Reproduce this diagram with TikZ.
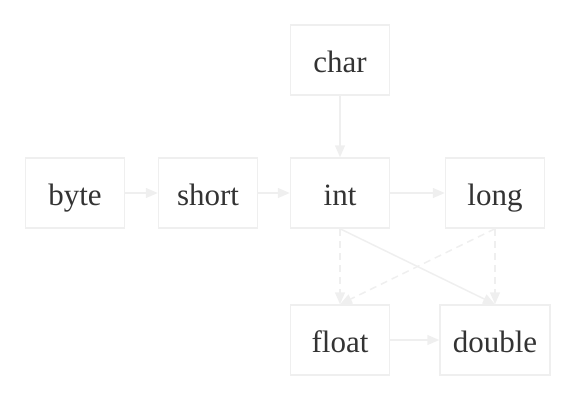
\documentclass[tikz,border=0pt]{standalone}
\usepackage{fontspec}
\setmainfont{Liberation Serif}
\usetikzlibrary{arrows.meta}
\definecolor{boxc}{HTML}{EFEFEF}
\definecolor{txtc}{HTML}{333333}
\begin{document}
\begin{tikzpicture}[x=1pt,y=-1pt,
  typebox/.style={draw=boxc, line width=1.5pt, minimum width=99pt, minimum height=70pt, inner sep=0pt,
    text height=24pt, text depth=0pt,
    text=txtc, font=\fontsize{31}{34}\selectfont},
  conn/.style={draw=boxc, line width=1.5pt, -{Triangle[length=12pt,width=10pt]}},
  dconn/.style={conn, dash pattern=on 7pt off 5pt}]
\useasboundingbox (0,0) rectangle (575,400);
\node[typebox] (char) at (340,60) {char};
\node[typebox] (byte) at (75,193) {byte};
\node[typebox] (short) at (208,193) {short};
\node[typebox] (int) at (340,193) {int};
\node[typebox] (long) at (495,193) {long};
\node[typebox] (float) at (340,340) {float};
\node[typebox, minimum width=110pt] (double) at (495,340) {double};
\draw[conn] (char) -- (int);
\draw[conn] (byte) -- (short);
\draw[conn] (short) -- (int);
\draw[conn] (int) -- (long);
\draw[dconn] (int.south) -- (float.north);
\draw[conn] (int.south) -- (double.north);
\draw[dconn] (long.south) -- (float.north);
\draw[dconn] (long.south) -- (double.north);
\draw[conn] (float) -- (double);
\end{tikzpicture}
\end{document}
